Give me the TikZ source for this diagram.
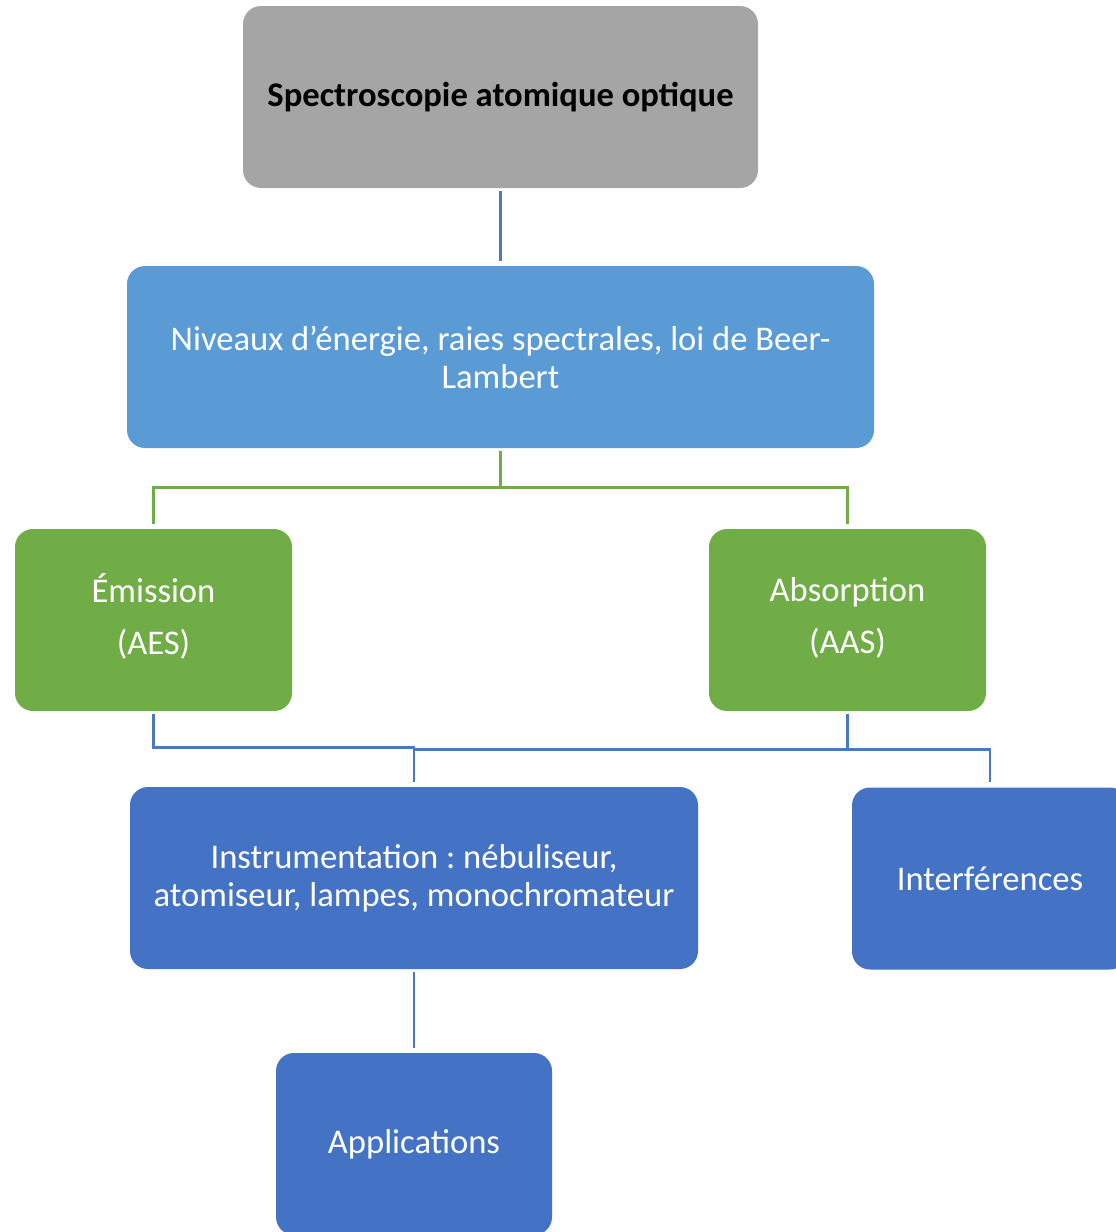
\documentclass[tikz,border=0pt]{standalone}
\usepackage{fontspec}
\setmainfont{Carlito}
\frenchspacing
\definecolor{topgray}{HTML}{A5A5A5}
\definecolor{lightblue}{HTML}{5B9BD5}
\definecolor{leafgreen}{HTML}{70AD47}
\definecolor{darkblue}{HTML}{4472C4}
\definecolor{linkblue}{HTML}{4A78C2}
\begin{document}
\begin{tikzpicture}[x=1pt,y=-1pt,
  box/.style={rounded corners=18pt, minimum height=182pt, align=center,
    text=white, inner sep=0pt, font=\fontsize{34.6}{38}\selectfont},
  link/.style={line width=2.6pt, shorten <=3pt, shorten >=5pt},
  greenlink/.style={link, draw=leafgreen},
  bluelink/.style={link, draw=linkblue}]
  \useasboundingbox (0,0) rectangle (1116,1232);
  \clip (0,0) rectangle (1116,1232);

  % boxes
  \node[box, fill=topgray, text=black, minimum width=515pt,
        font=\fontsize{34.6}{38}\selectfont\bfseries] (top) at (500.5,97)
        {Spectroscopie atomique optique};
  \node[box, fill=lightblue, minimum width=747pt] (lvl) at (500.5,357)
        {Niveaux d’énergie, raies spectrales, loi de Beer-\\Lambert};
  \node[box, fill=leafgreen, minimum width=277pt] (emi) at (153.5,620)
        {\strut Émission\\[14pt]\strut(AES)};
  \node[box, fill=leafgreen, minimum width=277pt] (abs) at (847.5,620)
        {\strut Absorption\\[14pt]\strut(AAS)};
  \node[box, fill=darkblue, minimum width=568pt] (ins) at (414,878)
        {Instrumentation : nébuliseur,\\atomiseur, lampes, monochromateur};
  \node[box, fill=darkblue, minimum width=276pt] (itf) at (990,878.5)
        {Interférences};
  \node[box, fill=darkblue, minimum width=276pt] (app) at (414,1144)
        {Applications};

  % connectors
  \draw[bluelink] (top.south) -- (lvl.north);
  \draw[greenlink] (lvl.south) -- ++(0,39) -| (emi.north);
  \draw[greenlink] (lvl.south) -- ++(0,39) -| (abs.north);
  \draw[bluelink] (emi.south) -- ++(0,36) -| (ins.north);
  \draw[bluelink] (abs.south) -- ++(0,38) coordinate (ja) -| (itf.north);
  \draw[line width=2.6pt, draw=linkblue] (ja) -- (ja -| ins.north);
  \draw[bluelink] (ins.south) -- (app.north);
\end{tikzpicture}
\end{document}
